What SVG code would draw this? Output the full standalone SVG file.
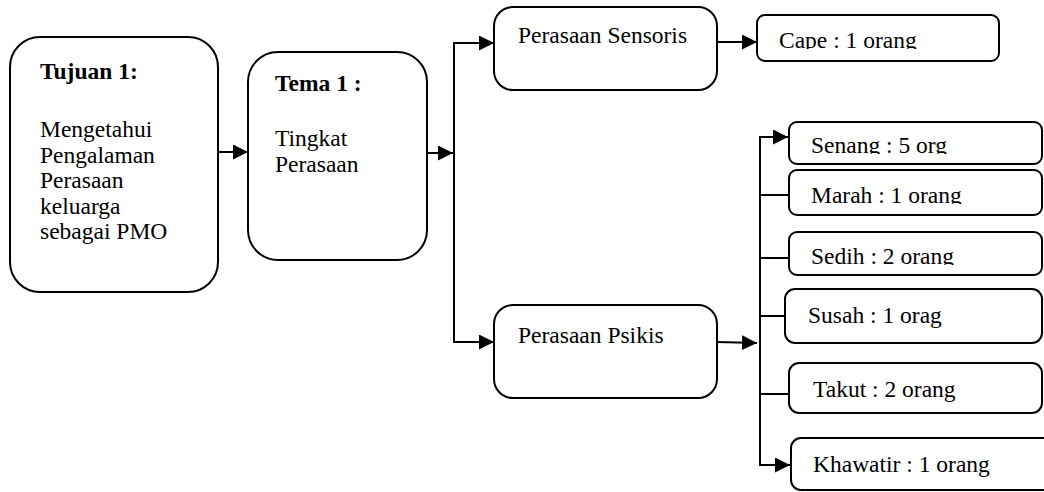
<svg xmlns="http://www.w3.org/2000/svg" width="1044" height="492" viewBox="0 0 1044 492">
<style>
.box{fill:#fff;stroke:#000;stroke-width:2}
.t{font-family:"Liberation Serif","Times New Roman",serif;font-size:23.5px;fill:#000}
.b{font-weight:bold}
.c{fill:none;stroke:#000;stroke-width:2}
</style>
<defs>
<marker id="ah" markerUnits="userSpaceOnUse" markerWidth="16" markerHeight="16" refX="15" refY="7.5" orient="auto">
<path d="M0,0 L15,7.5 L0,15 z" fill="#000"/>
</marker>
<clipPath id="clipCape"><rect x="757" y="15" width="242" height="34"/></clipPath>
<clipPath id="clipSenang"><rect x="789" y="122" width="253" height="32"/></clipPath>
<clipPath id="clipMarah"><rect x="789" y="170" width="253" height="34"/></clipPath>
<clipPath id="clipSedih"><rect x="789" y="232" width="253" height="33"/></clipPath>
</defs>
<rect width="1044" height="492" fill="#fff"/>
<g id="connectors">
<line class="c" x1="218" y1="152" x2="248" y2="152" marker-end="url(#ah)"/>
<line class="c" x1="427" y1="153" x2="453" y2="153" marker-end="url(#ah)"/>
<line class="c" x1="454" y1="42" x2="454" y2="343"/>
<line class="c" x1="453" y1="43" x2="494" y2="43" marker-end="url(#ah)"/>
<line class="c" x1="453" y1="342" x2="494" y2="342" marker-end="url(#ah)"/>
<line class="c" x1="717" y1="42" x2="757" y2="42" marker-end="url(#ah)"/>
<line class="c" x1="717" y1="342" x2="757" y2="343" marker-end="url(#ah)"/>
<line class="c" x1="760" y1="136" x2="760" y2="466"/>
<line class="c" x1="759" y1="137" x2="788" y2="137" marker-end="url(#ah)"/>
<line class="c" x1="760" y1="195" x2="789" y2="195"/>
<line class="c" x1="760" y1="258" x2="789" y2="258"/>
<line class="c" x1="760" y1="316" x2="785" y2="316"/>
<line class="c" x1="760" y1="394" x2="789" y2="394"/>
<line class="c" x1="759" y1="465" x2="790" y2="465" marker-end="url(#ah)"/>
</g>
<g id="tujuan">
<rect class="box" x="10" y="37" width="208" height="255" rx="30"/>
<text class="t b" x="40" y="79">Tujuan 1:</text>
<text class="t" x="40" y="137">Mengetahui</text>
<text class="t" x="40" y="162.5">Pengalaman</text>
<text class="t" x="40" y="188">Perasaan</text>
<text class="t" x="40" y="213.5">keluarga</text>
<text class="t" x="40" y="239">sebagai PMO</text>
</g>
<g id="tema">
<rect class="box" x="248" y="52" width="179" height="208" rx="30"/>
<text class="t b" x="275" y="91">Tema 1 :</text>
<text class="t" x="275" y="146">Tingkat</text>
<text class="t" x="275" y="172">Perasaan</text>
</g>
<g id="sensoris">
<rect class="box" x="494" y="7" width="223" height="83" rx="19"/>
<text class="t" x="518" y="43">Perasaan Sensoris</text>
</g>
<g id="psikis">
<rect class="box" x="494" y="305" width="223" height="93" rx="19"/>
<text class="t" x="518" y="343">Perasaan Psikis</text>
</g>
<g id="cape">
<rect class="box" x="757" y="15" width="242" height="46" rx="8"/>
<text class="t" x="779" y="48" clip-path="url(#clipCape)">Cape : 1 orang</text>
</g>
<g id="senang">
<rect class="box" x="789" y="122" width="253" height="42" rx="8"/>
<text class="t" x="811" y="153" clip-path="url(#clipSenang)">Senang : 5 org</text>
</g>
<g id="marah">
<rect class="box" x="789" y="170" width="253" height="45" rx="8"/>
<text class="t" x="811" y="203" clip-path="url(#clipMarah)">Marah : 1 orang</text>
</g>
<g id="sedih">
<rect class="box" x="789" y="232" width="253" height="43" rx="8"/>
<text class="t" x="811" y="264" clip-path="url(#clipSedih)">Sedih : 2 orang</text>
</g>
<g id="susah">
<rect class="box" x="785" y="289" width="257" height="54" rx="10"/>
<text class="t" x="808" y="323">Susah : 1 orag</text>
</g>
<g id="takut">
<rect class="box" x="789" y="363" width="253" height="50" rx="10"/>
<text class="t" x="813" y="397">Takut : 2 orang</text>
</g>
<g id="khawatir">
<rect class="box" x="791" y="438" width="262" height="52" rx="10"/>
<text class="t" x="813" y="472">Khawatir : 1 orang</text>
</g>
</svg>
